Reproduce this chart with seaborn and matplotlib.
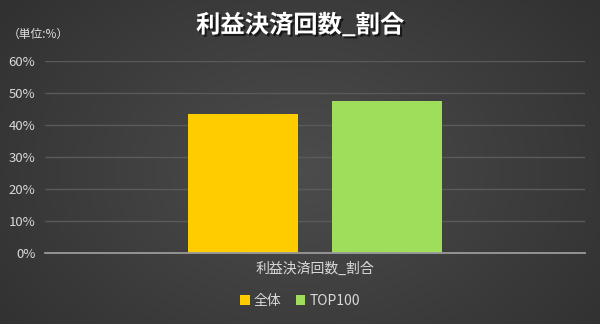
import numpy as np
import pandas as pd
import matplotlib
matplotlib.use("Agg")
import matplotlib.pyplot as plt
import matplotlib.patheffects as pe
from matplotlib.ticker import PercentFormatter
from matplotlib.patches import Patch
import seaborn as sns

categories = ["利益決済回数_割合"]
series_names = ["全体", "TOP100"]
values_all = [43.5]
values_top = [47.5]
colors = ["#FFCC00", "#9FDE5A"]

sns.set_theme(style="dark")
plt.rcParams["font.family"] = ["Noto Sans CJK JP", "DejaVu Sans"]

df = pd.DataFrame({
    "cat": categories * 2,
    "series": [series_names[0]] * len(categories) + [series_names[1]] * len(categories),
    "value": values_all + values_top,
})

fig = plt.figure(figsize=(6, 3.24), dpi=100)

# background radial gradient
bg = fig.add_axes([0, 0, 1, 1], zorder=-10)
yy, xx = np.mgrid[0:324, 0:600]
r = np.sqrt(((xx - 300) / 420) ** 2 + ((yy - 170) / 300) ** 2)
val = 0.30 - 0.12 * np.clip(r, 0, 1.2)
bg.imshow(np.dstack([val, val, val]), aspect="auto", extent=[0, 1, 0, 1])
bg.set_axis_off()

ax = fig.add_axes([45 / 600, 1 - 253.3 / 324, 540 / 600, 192 / 324])
ax.patch.set_alpha(0)
sns.barplot(data=df, x="cat", y="value", hue="series", palette=colors,
            width=0.532, gap=0.238, ax=ax, legend=False, saturation=1,
            linewidth=0, edgecolor="none")
ax.set_xlim(-0.5, 0.5)
ax.set_ylim(0, 60)
ax.set_yticks(np.arange(0, 61, 10))
ax.yaxis.set_major_formatter(PercentFormatter(decimals=0))
ax.grid(axis="y", color="#5a5a5a", linewidth=1)
ax.grid(axis="x", visible=False)
for s in ["top", "right", "left"]:
    ax.spines[s].set_visible(False)
ax.spines["bottom"].set_color("#9a9a9a")
ax.spines["bottom"].set_linewidth(1.3)
ax.tick_params(axis="both", colors="#d9d9d9", labelsize=9.5, length=0, pad=7)
ax.tick_params(axis="x", pad=6, labelsize=10)
ax.set_xlabel("")
ax.set_ylabel("")

fig.text(0.5, 1 - 25 / 324, "利益決済回数_割合", ha="center", va="center",
         fontsize=17.5, fontweight="bold", color="white",
         path_effects=[pe.withSimplePatchShadow(offset=(1.5, -1.5), shadow_rgbFace="black", alpha=0.6)])
fig.text(8 / 600, 1 - 34 / 324, "（単位:%）", ha="left", va="center",
         fontsize=8.5, color="#e0e0e0")

handles = [Patch(facecolor=c, edgecolor="none") for c in colors]
fig.legend(handles, series_names, loc="center", bbox_to_anchor=(0.5, 1 - 301 / 324),
           ncol=2, frameon=False, fontsize=10, labelcolor="#d9d9d9",
           handlelength=0.7, handleheight=0.7, handletextpad=0.3, columnspacing=1.0)

fig.savefig("out.png", dpi=100)
